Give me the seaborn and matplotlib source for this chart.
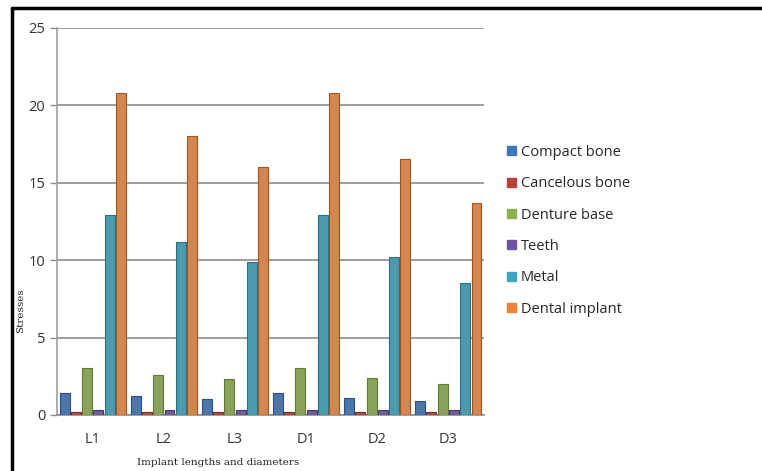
import pandas as pd
import matplotlib.pyplot as plt
import seaborn as sns
from matplotlib.lines import Line2D
from matplotlib.ticker import FixedLocator

# values
groups = ["L1", "L2", "L3", "D1", "D2", "D3"]
compact_bone = [1.4, 1.2, 1.0, 1.4, 1.1, 0.9]
cancelous_bone = [0.2, 0.2, 0.2, 0.2, 0.2, 0.2]
denture_base = [3.0, 2.6, 2.3, 3.0, 2.4, 2.0]
teeth = [0.3, 0.3, 0.3, 0.3, 0.3, 0.3]
metal = [12.9, 11.2, 9.9, 12.9, 10.2, 8.5]
dental_implant = [20.8, 18.0, 16.0, 20.8, 16.5, 13.7]

series_names = ["Compact bone", "Cancelous bone", "Denture base",
                "Teeth", "Metal", "Dental implant"]
series_vals = [compact_bone, cancelous_bone, denture_base,
               teeth, metal, dental_implant]
colors = ["#3F74B8", "#B8413E", "#8DB04E", "#6E55A0", "#3DA3BE", "#E8843A"]
edges = ["#2A4F80", "#7E2A28", "#5F7A32", "#47366C", "#277086", "#9E561F"]

rows = []
for name, vals in zip(series_names, series_vals):
    for g, v in zip(groups, vals):
        rows.append({"group": g, "series": name, "value": v})
df = pd.DataFrame(rows)

sns.set_style("white")
fig = plt.figure(figsize=(7.62, 4.71), dpi=100)
ax = fig.add_axes([0.075, 0.119, 0.56, 0.822])

sns.barplot(data=df, x="group", y="value", hue="series", order=groups,
            hue_order=series_names, palette=colors, width=0.95, gap=0.12,
            ax=ax, legend=False, zorder=3)

# darker right edge like the 3D look
n = len(groups)
for i, patch in enumerate(ax.patches[:n * len(series_names)]):
    patch.set_edgecolor(edges[i // n])
    patch.set_linewidth(0.8)

ax.set_ylim(0, 25)
ax.set_xlim(-0.5, n - 0.5)
ax.set_yticks([0, 5, 10, 15, 20, 25])
ax.yaxis.grid(True, color="#8c8c8c", linewidth=1.2, zorder=0)
ax.xaxis.set_minor_locator(FixedLocator([i + 0.5 for i in range(-1, n)]))
ax.tick_params(axis="x", which="major", length=0, pad=12, labelsize=10.5,
               labelcolor="#333333")
ax.tick_params(axis="x", which="minor", length=5, color="#8c8c8c", width=1)
ax.tick_params(axis="y", length=5, color="#8c8c8c", width=1, labelsize=10.5,
               labelcolor="#333333", left=True)
for t in ax.get_xticklabels() + ax.get_yticklabels():
    t.set_family(["Open Sans", "DejaVu Sans"])

for s in ["top", "right"]:
    ax.spines[s].set_visible(False)
ax.spines["left"].set_color("#a0a0a0")
ax.spines["left"].set_linewidth(1.2)
ax.spines["bottom"].set_color("#8c8c8c")
ax.spines["bottom"].set_linewidth(1.2)

ax.set_xlabel("Implant lengths and diameters", family="DejaVu Serif",
              fontsize=7.5, color="#222222")
ax.set_ylabel("Stresses", family="DejaVu Serif", fontsize=7.5,
              color="#222222")
ax.xaxis.set_label_coords(0.377, -0.112)
ax.yaxis.set_label_coords(-0.074, 0.27)

handles = [plt.Rectangle((0, 0), 1, 1, facecolor=c, edgecolor=c)
           for c in colors]
fig.legend(handles, series_names, loc="upper left",
           bbox_to_anchor=(0.648, 0.72), frameon=False,
           handlelength=0.6, handleheight=0.6, handletextpad=0.35,
           labelspacing=1.12, prop={"family": "Open Sans", "size": 10.5})

# black frame on top and left, as in the reference
fig.add_artist(Line2D([0.0155, 0.0155], [0, 0.982], color="black",
                      linewidth=2.5, transform=fig.transFigure))
fig.add_artist(Line2D([0.0155, 1.0], [0.982, 0.982], color="black",
                      linewidth=2.5, transform=fig.transFigure))

fig.savefig("out.png", dpi=100)
